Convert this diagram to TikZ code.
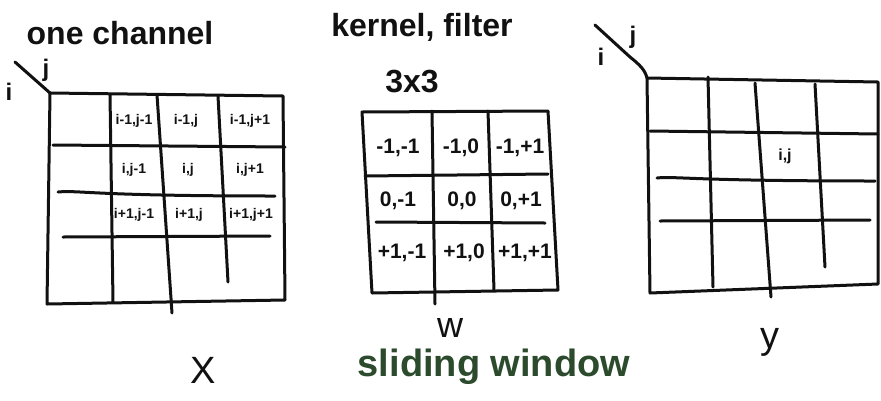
\documentclass[tikz,border=0pt]{standalone}
\usepackage{fontspec}
\setmainfont{Liberation Sans}
\definecolor{ink}{HTML}{111111}
\definecolor{leaf}{HTML}{2C4A2C}
\begin{document}
\begin{tikzpicture}[x=1pt,y=-1pt,
  pen/.style={draw=ink,line width=3pt,line cap=round,line join=round},
  cellx/.style={font=\fontsize{14}{14}\selectfont\bfseries,text=ink,inner sep=0pt},
  cellw/.style={font=\fontsize{21}{21}\selectfont\bfseries,text=ink,inner sep=0pt},
  title/.style={font=\fontsize{32}{32}\selectfont\bfseries,text=ink,inner sep=0pt},
  axis/.style={font=\fontsize{24}{24}\selectfont\bfseries,text=ink,inner sep=0pt},
  big/.style={font=\fontsize{38}{38}\selectfont,text=ink,inner sep=0pt}]
\useasboundingbox[fill=white] (0,0) rectangle (881,400);

% ---------- input X ----------
\node[title] (tX) at (120,33) {one channel};
\draw[pen] (15,62) -- (50,93);
\node[axis] (iX) at (9,92) {i};
\node[axis] (jX) at (46,70) {j};
\draw[pen] (50,93) -- (283,96) -- (285,300) -- (47,304) -- cycle;
\draw[pen] (110,94) -- (113,302);
\draw[pen] (157,95) -- (172,313);
\draw[pen] (218,96) -- (228,282);
\draw[pen] (53,145) -- (285,147);
\draw[pen] (58,192) .. controls (80,190) and (90,196) .. (275,196);
\draw[pen] (63,237) -- (270,236);
\node[cellx] (x11) at (134,121) {i-1,j-1};
\node[cellx] (x12) at (186,121) {i-1,j};
\node[cellx] (x13) at (250,121) {i-1,j+1};
\node[cellx] (x21) at (134,170) {i,j-1};
\node[cellx] (x22) at (188,170) {i,j};
\node[cellx] (x23) at (250,170) {i,j+1};
\node[cellx] (x31) at (134,215) {i+1,j-1};
\node[cellx] (x32) at (189,215) {i+1,j};
\node[cellx] (x33) at (251,215) {i+1,j+1};
\node[big] (lX) at (203,370) {X};

% ---------- kernel W ----------
\node[title] (tW) at (422,27) {kernel, filter};
\node[title] (tK) at (412,82) {3x3};
\draw[pen] (362,112) -- (548,111) -- (558,290) -- (372,293) -- cycle;
\draw[pen] (432,111) -- (435,304);
\draw[pen] (488,111) -- (494,290);
\draw[pen] (365,176) -- (548,174);
\draw[pen] (376,222) -- (545,223);
\node[cellw] (w11) at (398,148) {-1,-1};
\node[cellw] (w12) at (461,148) {-1,0};
\node[cellw] (w13) at (520,148) {-1,+1};
\node[cellw] (w21) at (398,201) {0,-1};
\node[cellw] (w22) at (462,201) {0,0};
\node[cellw] (w23) at (521,201) {0,+1};
\node[cellw] (w31) at (402,253) {+1,-1};
\node[cellw] (w32) at (464,253) {+1,0};
\node[cellw] (w33) at (525,253) {+1,+1};
\node[big,font=\fontsize{36}{36}\selectfont] (lW) at (450,328) {w};
\node[big,font=\fontsize{38}{38}\selectfont\bfseries,text=leaf] (sl) at (494,367) {sliding window};

% ---------- output Y ----------
\draw[pen] (595,25) -- (630,57) .. controls (640,65) and (645,70) .. (647,78);
\node[axis] (iY) at (601,57) {i};
\node[axis] (jY) at (633,37) {j};
\draw[pen] (647,78) -- (878,82) -- (878,284) -- (650,293) -- cycle;
\draw[pen] (708,77) -- (713,287);
\draw[pen] (755,83) -- (771,297);
\draw[pen] (815,84) -- (825,267);
\draw[pen] (650,131) -- (878,134);
\draw[pen] (657,178) .. controls (675,176) and (690,181) .. (875,181);
\draw[pen] (660,221) -- (870,220);
\node[cellx,font=\fontsize{16}{16}\selectfont\bfseries] (y22) at (785,156) {i,j};
\node[big] (lY) at (770,342) {y};
\end{tikzpicture}
\end{document}
